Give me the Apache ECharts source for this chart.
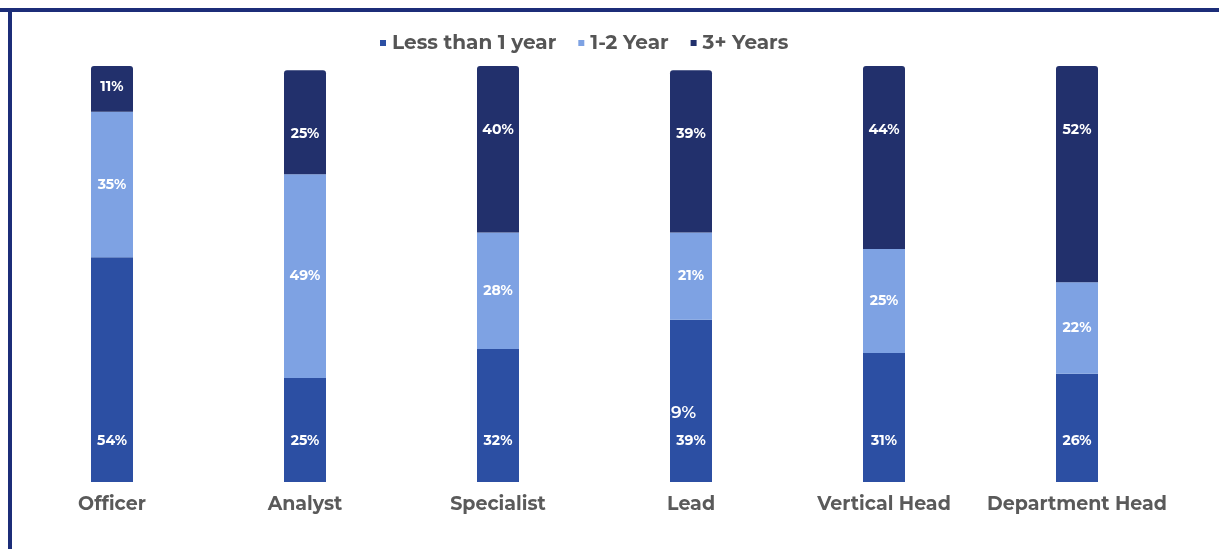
<!DOCTYPE html>
<html>
<head>
<meta charset="utf-8">
<script src="https://cdn.jsdelivr.net/npm/echarts@6/dist/echarts.min.js"></script>
<style>
html,body{margin:0;padding:0;background:#fff;}
#chart{width:1219px;height:549px;}
</style>
</head>
<body>
<div id="chart"></div>
<script>
const categories = ['Officer', 'Analyst', 'Specialist', 'Lead', 'Vertical Head', 'Department Head'];
const seriesNames = ['Less than 1 year', '1-2 Year', '3+ Years'];
const lessThan1 = [54, 25, 32, 39, 31, 26];
const oneToTwo = [35, 49, 28, 21, 25, 22];
const threePlus = [11, 25, 40, 39, 44, 52];
const strayLabel = '39%';

const FONT = 'Montserrat, "Open Sans", "Noto Sans", sans-serif';
const colors = ['#2c4fa3', '#7ea2e3', '#22306c'];

const chart = echarts.init(document.getElementById('chart'));
const labelBase = {
  show: true,
  color: '#ffffff',
  fontFamily: FONT,
  fontWeight: 'bold',
  fontSize: 14,
  formatter: p => p.value + '%'
};

chart.setOption({
  animation: false,
  color: colors,
  legend: {
    top: 28,
    left: 375,
    icon: 'rect',
    itemWidth: 6,
    itemHeight: 6,
    itemGap: 22,
    textStyle: { fontFamily: FONT, fontWeight: 'bold', fontSize: 20, color: '#555555', padding: [0, 0, 0, 1] },
    data: seriesNames
  },
  grid: { left: 15.5, right: 45.5, top: 66, bottom: 67, containLabel: false },
  xAxis: {
    type: 'category',
    data: categories,
    axisLine: { show: false },
    axisTick: { show: false },
    axisLabel: { interval: 0, margin: 13, fontFamily: FONT, fontWeight: 'bold', fontSize: 19, color: '#5a5a5a' }
  },
  yAxis: { type: 'value', min: 0, max: 100, show: false, splitLine: { show: false } },
  series: [
    {
      name: seriesNames[0], type: 'bar', stack: 'a', barWidth: 42,
      data: lessThan1,
      label: Object.assign({}, labelBase, { position: 'insideBottom', distance: 34 })
    },
    {
      name: seriesNames[1], type: 'bar', stack: 'a', barWidth: 42,
      data: oneToTwo,
      label: Object.assign({}, labelBase, { position: 'inside' })
    },
    {
      name: seriesNames[2], type: 'bar', stack: 'a', barWidth: 42,
      itemStyle: { borderRadius: [3, 3, 0, 0] },
      data: threePlus.map((v, i) => i === 0 ? { value: v, label: { distance: 14 } } : v),
      label: Object.assign({}, labelBase, { position: 'insideTop', distance: 57 })
    }
  ],
  graphic: [
    { type: 'rect', shape: { x: 0, y: 8, width: 1219, height: 4 }, style: { fill: '#1c2d78' } },
    { type: 'rect', shape: { x: 8, y: 8, width: 4, height: 541 }, style: { fill: '#1c2d78' } },
    {
      type: 'text', z: 100, left: 661, top: 404,
      style: { text: strayLabel, fill: '#ffffff', font: '600 17px ' + FONT }
    }
  ]
});
</script>
</body>
</html>
